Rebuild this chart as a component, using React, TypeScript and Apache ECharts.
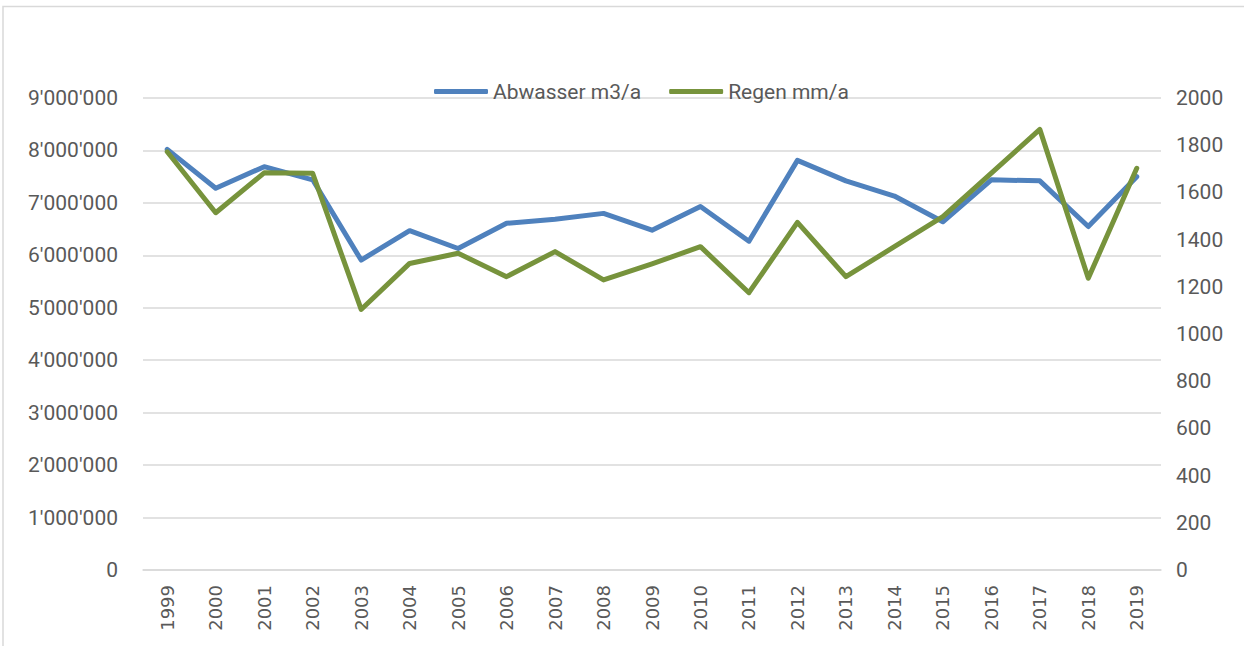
import React, { useEffect, useRef } from "react";
import * as echarts from "echarts";

const years = ["1999","2000","2001","2002","2003","2004","2005","2006","2007","2008","2009","2010","2011","2012","2013","2014","2015","2016","2017","2018","2019"];
const abwasser = [8020000, 7280000, 7690000, 7440000, 5910000, 6470000, 6130000, 6610000, 6690000, 6800000, 6480000, 6930000, 6270000, 7810000, 7420000, 7130000, 6640000, 7440000, 7420000, 6550000, 7500000];
const regen = [1772, 1514, 1683, 1681, 1104, 1299, 1342, 1243, 1349, 1229, 1297, 1370, 1175, 1473, 1243, 1370, 1497, 1682, 1867, 1236, 1702];
const seriesNames = ["Abwasser m3/a", "Regen mm/a"];

const fmt = (v: number) => String(v).replace(/\B(?=(\d{3})+(?!\d))/g, "'");

export default function App() {
  const ref = useRef<HTMLDivElement>(null);
  useEffect(() => {
    if (!ref.current) return;
    const chart = echarts.init(ref.current, undefined, { renderer: "svg" });
    const labelColor = "#595959";
    const gridColor = "#d9d9d9";
    chart.setOption({
      animation: false,
      backgroundColor: "#ffffff",
      graphic: [
        {
          type: "rect",
          shape: { x: 3, y: 6.5, width: 1400, height: 800 },
          style: { fill: "none", stroke: gridColor, lineWidth: 1.5 },
          silent: true,
          z: 0,
        },
      ],
      legend: {
        left: 429,
        top: 76,
        itemWidth: 54,
        itemHeight: 5,
        itemGap: 28,
        icon: "roundRect",
        textStyle: { color: labelColor, fontFamily: "Roboto", fontSize: 21, padding: [0, 0, 0, 0] },
        data: seriesNames,
      },
      grid: { left: 143, right: 83, top: 98, bottom: 76, containLabel: false },
      xAxis: {
        type: "category",
        data: years,
        boundaryGap: true,
        axisLine: { lineStyle: { color: gridColor, width: 1.5 } },
        axisTick: { show: false },
        axisLabel: {
          rotate: 90,
          margin: 15,
          color: labelColor,
          fontFamily: "DejaVu Sans",
          fontSize: 18,
          interval: 0,
        },
      },
      yAxis: [
        {
          type: "value",
          min: 0,
          max: 9000000,
          interval: 1000000,
          axisLine: { show: false },
          axisTick: { show: false },
          splitLine: { lineStyle: { color: gridColor, width: 1.5 } },
          axisLabel: {
            margin: 25,
            color: labelColor,
            fontFamily: "Roboto",
            fontSize: 21,
            formatter: (v: number) => fmt(v),
          },
        },
        {
          type: "value",
          min: 0,
          max: 2000,
          interval: 200,
          position: "right",
          axisLine: { show: false },
          axisTick: { show: false },
          splitLine: { show: false },
          axisLabel: {
            margin: 15,
            color: labelColor,
            fontFamily: "Roboto",
            fontSize: 21,
            formatter: (v: number) => String(v),
          },
        },
      ],
      series: [
        {
          name: seriesNames[0],
          type: "line",
          yAxisIndex: 0,
          data: abwasser,
          showSymbol: false,
          symbol: "none",
          color: "#4f81bd",
          lineStyle: { color: "#4f81bd", width: 5, cap: "round", join: "round" },
        },
        {
          name: seriesNames[1],
          type: "line",
          yAxisIndex: 1,
          data: regen,
          showSymbol: false,
          symbol: "none",
          color: "#77933c",
          lineStyle: { color: "#77933c", width: 5, cap: "round", join: "round" },
        },
      ],
    });
    return () => chart.dispose();
  }, []);
  return (
    <div
      ref={ref}
      style={{ position: "fixed", left: 0, top: 0, width: 1244, height: 646 }}
    />
  );
}
